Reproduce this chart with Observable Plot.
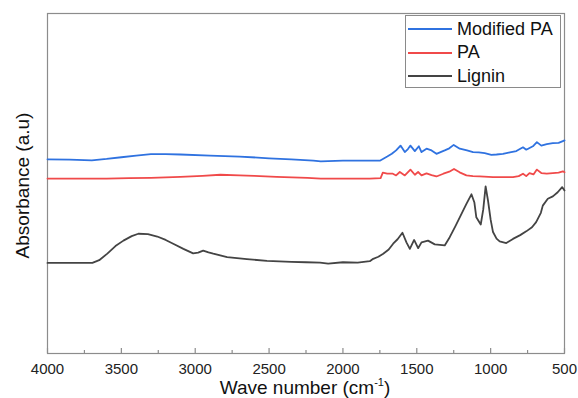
<!DOCTYPE html>
<html>
<head>
<meta charset="utf-8">
<script src="https://cdn.jsdelivr.net/npm/d3@7"></script>
<script src="https://cdn.jsdelivr.net/npm/@observablehq/plot@0.6"></script>
<style>
  html, body { margin: 0; padding: 0; background: #fff; }
  #wrap { position: relative; width: 578px; height: 398px; font-family: "Liberation Sans", Arial, sans-serif; }
  #xlabel { position: absolute; left: 0; width: 610px; top: 378px; line-height: 19px; text-align: center; font-size: 19px; color: #111; white-space: nowrap; }
  #xlabel sup { font-size: 11px; line-height: 0; vertical-align: 0; position: relative; top: -8px; }
  #legend { position: absolute; left: 405px; top: 15px; width: 154px; height: 71px; border: 1px solid #8a8a8a; background: #fff; }
  .row { position: absolute; left: 2px; height: 22px; display: flex; align-items: center; font-size: 18px; color: #111; }
  .row svg { margin-right: 5px; }
</style>
</head>
<body>
<div id="wrap"></div>
<script>
// Wave numbers (cm^-1) and absorbance (a.u., arbitrary, offset per trace)
const modWn  = [4000, 3850, 3700, 3600, 3500, 3400, 3300, 3200, 3100, 2900, 2700, 2500, 2350, 2200, 2150, 2000, 1850, 1750, 1700, 1669, 1640, 1610, 1581, 1560, 1543, 1513, 1486, 1468, 1434, 1400, 1367, 1311, 1280, 1250, 1209, 1160, 1119, 1080, 1040, 995, 960, 917, 870, 826, 781, 759, 714, 687, 657, 620, 579, 540, 511, 500];
const modAbs = [0.566, 0.565, 0.563, 0.567, 0.572, 0.577, 0.581, 0.581, 0.580, 0.577, 0.574, 0.569, 0.566, 0.562, 0.560, 0.562, 0.562, 0.562, 0.574, 0.582, 0.592, 0.606, 0.587, 0.596, 0.606, 0.590, 0.604, 0.587, 0.597, 0.592, 0.582, 0.592, 0.598, 0.608, 0.597, 0.592, 0.587, 0.586, 0.584, 0.579, 0.580, 0.582, 0.586, 0.590, 0.601, 0.594, 0.604, 0.616, 0.606, 0.610, 0.613, 0.614, 0.619, 0.621];

const paWn  = [4000, 3800, 3600, 3450, 3300, 3100, 2950, 2830, 2700, 2600, 2450, 2240, 2150, 2000, 1818, 1745, 1730, 1700, 1662, 1640, 1615, 1581, 1543, 1513, 1491, 1468, 1434, 1400, 1367, 1320, 1280, 1248, 1210, 1164, 1120, 1074, 984, 900, 849, 810, 781, 759, 737, 710, 687, 657, 620, 579, 540, 511, 500];
const paAbs = [0.510, 0.510, 0.510, 0.511, 0.512, 0.515, 0.518, 0.521, 0.519, 0.518, 0.515, 0.512, 0.510, 0.510, 0.510, 0.511, 0.527, 0.524, 0.524, 0.519, 0.529, 0.519, 0.536, 0.521, 0.529, 0.519, 0.525, 0.520, 0.516, 0.524, 0.530, 0.538, 0.528, 0.519, 0.517, 0.516, 0.514, 0.514, 0.514, 0.517, 0.524, 0.517, 0.526, 0.522, 0.536, 0.526, 0.524, 0.526, 0.527, 0.531, 0.528];

const ligWn  = [4000, 3850, 3696, 3650, 3595, 3540, 3486, 3430, 3385, 3320, 3257, 3200, 3149, 3080, 3014, 2980, 2946, 2910, 2878, 2784, 2650, 2514, 2350, 2250, 2155, 2100, 2000, 1900, 1818, 1795, 1760, 1727, 1690, 1660, 1630, 1597, 1570, 1547, 1518, 1491, 1468, 1424, 1378, 1311, 1277, 1240, 1209, 1164, 1130, 1110, 1097, 1067, 1050, 1034, 1018, 1000, 984, 960, 939, 894, 849, 800, 759, 720, 692, 660, 647, 613, 579, 546, 516, 500];
const ligAbs = [0.264, 0.264, 0.264, 0.272, 0.291, 0.313, 0.329, 0.342, 0.349, 0.348, 0.341, 0.331, 0.320, 0.305, 0.292, 0.294, 0.300, 0.295, 0.291, 0.281, 0.275, 0.270, 0.267, 0.266, 0.265, 0.262, 0.266, 0.265, 0.269, 0.276, 0.282, 0.291, 0.303, 0.320, 0.333, 0.352, 0.324, 0.305, 0.331, 0.307, 0.324, 0.329, 0.318, 0.315, 0.339, 0.370, 0.397, 0.436, 0.464, 0.440, 0.397, 0.376, 0.420, 0.487, 0.446, 0.390, 0.354, 0.335, 0.327, 0.322, 0.334, 0.345, 0.356, 0.368, 0.383, 0.410, 0.431, 0.451, 0.458, 0.470, 0.485, 0.475];

const seriesNames  = ["Modified PA", "PA", "Lignin"];
const seriesColors = ["#2f72e0", "#f04a4a", "#444444"];
const xTicks      = [4000, 3500, 3000, 2500, 2000, 1500, 1000, 500];
const xMinorTicks = [3750, 3250, 2750, 2250, 1750, 1250, 750];

const rows = [
  ...modWn.map((w, i) => ({series: "Modified PA", wn: w, abs: modAbs[i]})),
  ...paWn.map((w, i) => ({series: "PA", wn: w, abs: paAbs[i]})),
  ...ligWn.map((w, i) => ({series: "Lignin", wn: w, abs: ligAbs[i]}))
];

const plot = Plot.plot({
  width: 578,
  height: 398,
  marginLeft: 47,
  marginRight: 14,
  marginTop: 13,
  marginBottom: 45,
  style: {fontFamily: "Liberation Sans, Arial, sans-serif", background: "#fff"},
  x: {domain: [4000, 500], ticks: xTicks},
  y: {domain: [0, 0.991]},
  color: {domain: seriesNames, range: seriesColors},
  marks: [
    Plot.frame({stroke: "#8c8c8c", strokeWidth: 1.2}),
    Plot.ruleX(xTicks, {x: d => d, stroke: "#8c8c8c", strokeWidth: 1.2, insetTop: 340 - 5}),
    Plot.ruleX(xMinorTicks, {x: d => d, stroke: "#8c8c8c", strokeWidth: 1.2, insetTop: 340 - 3}),
    Plot.axisX({ticks: xTicks, tickSize: 0, tickPadding: 10, fontSize: 15, label: null, color: "#222", tickFormat: d => String(d)}),
    Plot.axisY({ticks: [], label: null}),
    Plot.line(rows.filter(d => d.series === "Lignin"), {x: "wn", y: "abs", stroke: "series", strokeWidth: 1.8}),
    Plot.line(rows.filter(d => d.series === "PA"), {x: "wn", y: "abs", stroke: "series", strokeWidth: 1.8}),
    Plot.line(rows.filter(d => d.series === "Modified PA"), {x: "wn", y: "abs", stroke: "series", strokeWidth: 1.8}),
    Plot.text(["Absorbance (a.u)"], {frameAnchor: "left", textAnchor: "middle", lineAnchor: "middle", rotate: -90, dx: -25, dy: 2, fontSize: 19, fill: "#111", text: d => d})
  ]
});

const wrap = document.getElementById("wrap");
wrap.appendChild(plot);

const xl = document.createElement("div");
xl.id = "xlabel";
xl.innerHTML = "Wave number (cm<sup>-1</sup>)";
wrap.appendChild(xl);

const lg = document.createElement("div");
lg.id = "legend";
seriesNames.forEach((name, i) => {
  const r = document.createElement("div");
  r.className = "row";
  r.style.top = (2 + i * 23.5) + "px";
  r.innerHTML = `<svg width="44" height="4"><line x1="0" y1="2" x2="44" y2="2" stroke="${seriesColors[i]}" stroke-width="1.8"/></svg><span>${name}</span>`;
  lg.appendChild(r);
});
wrap.appendChild(lg);
</script>
</body>
</html>
